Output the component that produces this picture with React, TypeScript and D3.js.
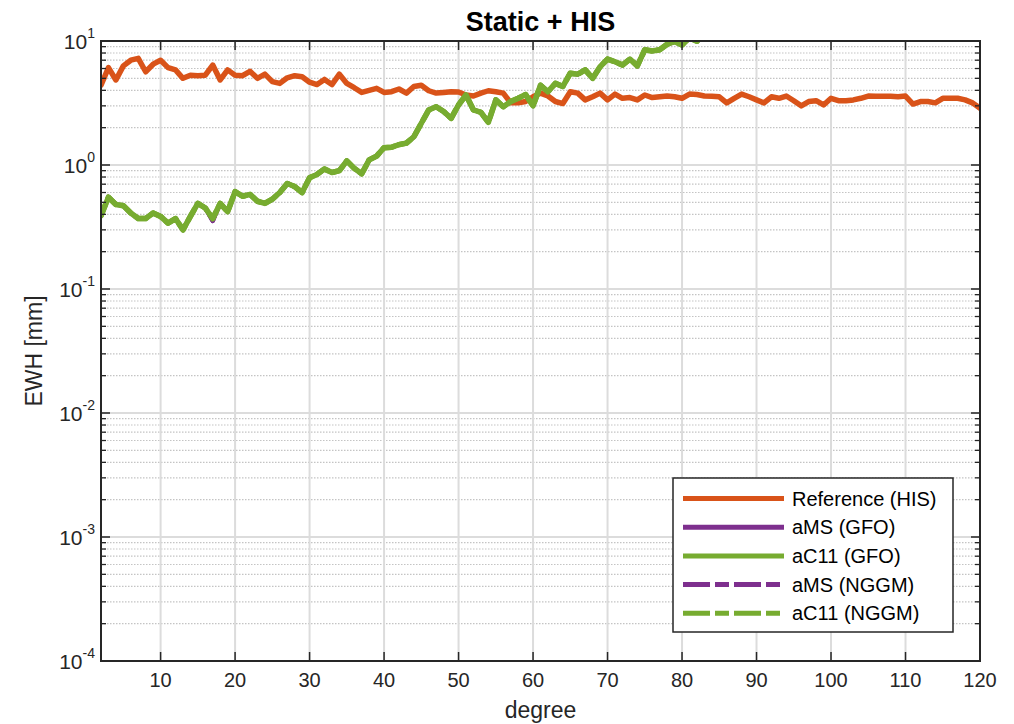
import React from "react";
import * as d3 from "d3";

// Spherical-harmonic degree axis and series (EWH amplitude in mm)
const degreesRef = d3.range(2, 121);
const referenceHis = [
  4.4, 6.1, 4.85, 6.3, 7.0, 7.25, 5.65, 6.5, 7.0, 6.1, 5.85, 5.0, 5.3, 5.25, 5.3, 6.4, 4.85, 5.85, 5.3,
  5.25, 5.7, 5.0, 5.4, 4.7, 4.55, 5.05, 5.25, 5.15, 4.65, 4.45, 4.9, 4.45, 5.4, 4.55, 4.2, 3.85, 4.0, 4.15,
  3.85, 3.9, 4.1, 3.8, 4.3, 4.4, 3.97, 3.8, 3.85, 3.9, 3.88, 3.67, 3.6, 3.8, 3.97, 3.9, 3.8, 3.17, 3.17,
  3.25, 3.55, 3.8, 3.6, 3.25, 3.13, 3.9, 3.8, 3.35, 3.55, 3.8, 3.35, 3.73, 3.45, 3.5, 3.35, 3.67, 3.5, 3.55,
  3.6, 3.55, 3.45, 3.73, 3.7, 3.6, 3.58, 3.55, 3.17, 3.45, 3.73, 3.55, 3.35, 3.17, 3.55, 3.45, 3.6, 3.3,
  3.0, 3.25, 3.3, 3.05, 3.45, 3.3, 3.3, 3.35, 3.45, 3.6, 3.58, 3.58, 3.58, 3.55, 3.6, 3.1, 3.25, 3.25, 3.17,
  3.45, 3.45, 3.45, 3.35, 3.17, 2.87,
];

const degreesAcc = d3.range(2, 84);
const aC11Gfo = [
  0.39, 0.55, 0.48, 0.47, 0.41, 0.37, 0.37, 0.41, 0.385, 0.34, 0.37, 0.3, 0.385, 0.49, 0.45, 0.37, 0.49,
  0.42, 0.61, 0.56, 0.58, 0.51, 0.49, 0.53, 0.6, 0.71, 0.67, 0.6, 0.79, 0.84, 0.93, 0.87, 0.9, 1.08, 0.94,
  0.85, 1.1, 1.18, 1.38, 1.39, 1.46, 1.5, 1.69, 2.17, 2.78, 2.95, 2.7, 2.38, 3.05, 3.67, 2.78, 2.66, 2.21,
  3.35, 2.95, 3.25, 3.45, 3.7, 3.0, 4.4, 3.9, 4.55, 4.3, 5.5, 5.4, 5.85, 5.0, 6.2, 7.15, 6.8, 6.4, 7.15, 6.3,
  8.5, 8.3, 8.5, 9.4, 9.9, 9.3, 10.6, 9.95, 11.5,
];
const aMsGfo = [
  0.39, 0.55, 0.48, 0.47, 0.41, 0.37, 0.37, 0.41, 0.385, 0.34, 0.37, 0.3, 0.385, 0.49, 0.45, 0.355, 0.49,
  0.42, 0.61, 0.56, 0.58, 0.51, 0.49, 0.53, 0.6, 0.71, 0.67, 0.6, 0.79, 0.84, 0.93, 0.87, 0.9, 1.08, 0.94,
  0.85, 1.1, 1.18, 1.38, 1.39, 1.46, 1.5, 1.69, 2.17, 2.78, 2.95, 2.7, 2.38, 3.05, 3.67, 2.78, 2.66, 2.21,
  3.35, 2.95, 3.25, 3.45, 3.7, 3.0, 4.4, 3.9, 4.55, 4.3, 5.5, 5.4, 5.85, 5.0, 6.2, 7.15, 6.8, 6.4, 7.15, 6.3,
  8.5, 8.3, 8.5, 9.4, 9.9, 9.3, 10.6, 9.95, 11.5,
];
// The NGGM curves coincide with the GFO ones at this scale
const aMsNggm = aMsGfo;
const aC11Nggm = aC11Gfo;

const xTicks = [10, 20, 30, 40, 50, 60, 70, 80, 90, 100, 110, 120];
const yExponents = [-4, -3, -2, -1, 0, 1];

const ORANGE = "#D95319";
const PURPLE = "#7E2F8E";
const GREEN = "#77AC30";
const AXIS = "#262626";
const FONT = "'Liberation Sans', Arial, Helvetica, sans-serif";

const W = 1014;
const H = 724;
const L = 101;
const R = 980;
const T = 41;
const B = 661;

const seriesList = [
  { name: "Reference (HIS)", x: degreesRef, y: referenceHis, color: ORANGE, dash: null as string | null, width: 5.5 },
  { name: "aMS (GFO)", x: degreesAcc, y: aMsGfo, color: PURPLE, dash: null, width: 4.5 },
  { name: "aMS (NGGM)", x: degreesAcc, y: aMsNggm, color: PURPLE, dash: "12,6", width: 4.5 },
  { name: "aC11 (GFO)", x: degreesAcc, y: aC11Gfo, color: GREEN, dash: null, width: 5.5 },
  { name: "aC11 (NGGM)", x: degreesAcc, y: aC11Nggm, color: GREEN, dash: "12,6", width: 5.5 },
];
const legendOrder = ["Reference (HIS)", "aMS (GFO)", "aC11 (GFO)", "aMS (NGGM)", "aC11 (NGGM)"];

export default function App() {
  const x = d3.scaleLinear().domain([2, 120]).range([L, R]);
  const y = d3.scaleLog().domain([1e-4, 10]).range([B, T]);

  const minorVals: number[] = [];
  for (let e = -4; e < 1; e++) {
    for (let k = 2; k <= 9; k++) minorVals.push(k * Math.pow(10, e));
  }

  const lineGen = (xs: number[], ys: number[]) =>
    d3
      .line<number>()
      .x((_, i) => x(xs[i]))
      .y((v) => y(v))(ys) || "";

  const legendRows = legendOrder.map((n, i) => ({
    ...seriesList.find((s) => s.name === n)!,
    cy: 498.5 + i * 28.7,
  }));
  const legendDash = "27,5,14,5";

  return (
    <svg width={W} height={H} style={{ display: "block", position: "absolute", left: 0, top: 0 }} fontFamily={FONT}>
      <rect x={0} y={0} width={W} height={H} fill="#fff" />
      <defs>
        <clipPath id="plotArea">
          <rect x={L} y={T} width={R - L} height={B - T} />
        </clipPath>
      </defs>

      {/* minor log grid */}
      {minorVals.map((v) => (
        <line key={"mg" + v} x1={L} x2={R} y1={y(v)} y2={y(v)} stroke="#c4c4c4" strokeWidth={1.2} strokeDasharray="1.5,1.5" />
      ))}
      {/* major grid */}
      {xTicks.map((t) => (
        <line key={"gx" + t} x1={x(t)} x2={x(t)} y1={T} y2={B} stroke="#dcdcdc" strokeWidth={2} />
      ))}
      {yExponents.map((e) => (
        <line key={"gy" + e} x1={L} x2={R} y1={y(Math.pow(10, e))} y2={y(Math.pow(10, e))} stroke="#dcdcdc" strokeWidth={2} />
      ))}

      {/* data */}
      <g clipPath="url(#plotArea)">
        {seriesList.map((s) => (
          <path
            key={s.name}
            d={lineGen(s.x, s.y)}
            fill="none"
            stroke={s.color}
            strokeWidth={s.width}
            strokeLinejoin="round"
            strokeLinecap="round"
            strokeDasharray={s.dash || undefined}
          />
        ))}
      </g>

      {/* ticks */}
      {xTicks.map((t) => (
        <g key={"tx" + t}>
          <line x1={x(t)} x2={x(t)} y1={B} y2={B - 9} stroke={AXIS} strokeWidth={1.5} />
          <line x1={x(t)} x2={x(t)} y1={T} y2={T + 9} stroke={AXIS} strokeWidth={1.5} />
          <text x={x(t)} y={687} textAnchor="middle" fontSize={20} fill={AXIS}>
            {t}
          </text>
        </g>
      ))}
      {yExponents.map((e) => {
        const yy = y(Math.pow(10, e));
        return (
          <g key={"ty" + e}>
            <line x1={L} x2={L + 9} y1={yy} y2={yy} stroke={AXIS} strokeWidth={1.5} />
            <line x1={R} x2={R - 9} y1={yy} y2={yy} stroke={AXIS} strokeWidth={1.5} />
            <text x={95} y={yy + 8} textAnchor="end" fontSize={21} fill={AXIS}>
              10
              <tspan fontSize={14} dy={-11}>
                {e}
              </tspan>
            </text>
          </g>
        );
      })}
      {minorVals.map((v) => (
        <g key={"mt" + v}>
          <line x1={L} x2={L + 5} y1={y(v)} y2={y(v)} stroke={AXIS} strokeWidth={1.3} />
          <line x1={R} x2={R - 5} y1={y(v)} y2={y(v)} stroke={AXIS} strokeWidth={1.3} />
        </g>
      ))}

      {/* axes box */}
      <rect x={L} y={T} width={R - L} height={B - T} fill="none" stroke={AXIS} strokeWidth={2} />

      {/* labels */}
      <text x={(L + R) / 2} y={31} textAnchor="middle" fontSize={27} fontWeight="bold" fill="#000">
        Static + HIS
      </text>
      <text x={(L + R) / 2} y={718} textAnchor="middle" fontSize={23} fill={AXIS}>
        degree
      </text>
      <text transform={`translate(42, ${(T + B) / 2}) rotate(-90)`} textAnchor="middle" fontSize={23} fill={AXIS}>
        EWH [mm]
      </text>

      {/* legend */}
      <rect x={673} y={478} width={280} height={154} fill="#fff" stroke={AXIS} strokeWidth={1.5} />
      {legendRows.map((r) => (
        <g key={"lg" + r.name}>
          <line
            x1={683}
            x2={r.dash ? 780 : 784}
            y1={r.cy}
            y2={r.cy}
            stroke={r.color}
            strokeWidth={5}
            strokeDasharray={r.dash ? legendDash : undefined}
          />
          <text x={792} y={r.cy + 7} fontSize={20} fill="#000">
            {r.name}
          </text>
        </g>
      ))}
    </svg>
  );
}
